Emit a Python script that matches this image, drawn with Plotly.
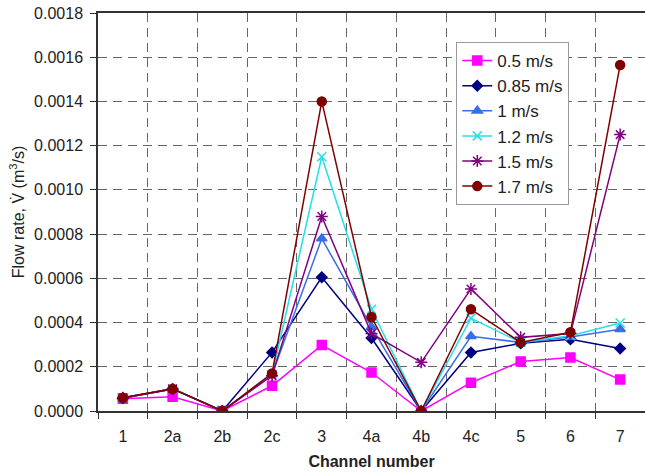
import plotly.graph_objects as go

cats = ["1", "2a", "2b", "2c", "3", "4a", "4b", "4c", "5", "6", "7"]
v05 = [0.000055, 0.000064, 0.0, 0.000114, 0.000298, 0.000174, 0.0, 0.000128, 0.000224, 0.000242, 0.000142]
v085 = [0.000058, 0.0001, 0.0, 0.000265, 0.000605, 0.00033, 0.0, 0.000265, 0.000306, 0.000324, 0.000283]
v1 = [0.00006, 0.0001, 0.0, 0.000165, 0.00078, 0.00038, 0.0, 0.000338, 0.00031, 0.000335, 0.00037]
v12 = [0.00006, 0.0001, 0.0, 0.000165, 0.00115, 0.00046, 0.0, 0.00042, 0.00031, 0.00034, 0.000398]
v15 = [0.00006, 0.0001, 0.0, 0.00016, 0.00088, 0.00035, 0.00022, 0.000552, 0.000333, 0.00035, 0.00125]
v17 = [0.00006, 0.0001, 0.0, 0.00017, 0.0014, 0.000425, 0.0, 0.00046, 0.00031, 0.000356, 0.001565]

series = [
    ("0.5 m/s", v05, "#FF00FF", "square", 9),
    ("0.85 m/s", v085, "#000080", "diamond", 8),
    ("1 m/s", v1, "#3A6EE8", "triangle-up", 9),
    ("1.2 m/s", v12, "#22E0E8", "x-thin-open", 9),
    ("1.5 m/s", v15, "#800080", "asterisk-open", 10),
    ("1.7 m/s", v17, "#800000", "circle", 9),
]

FONT = "Arial, Liberation Sans, Helvetica, sans-serif"

fig = go.Figure()
for i, (name, vals, color, sym, size) in enumerate(series):
    fig.add_trace(go.Scatter(
        x=cats, y=vals, name=name, mode="lines+markers",
        legendgroup=f"g{i}",
        line=dict(color=color, width=1.5),
        marker=dict(symbol=sym, size=size, color=color,
                    line=dict(color=color, width=1.5)),
    ))

fig.update_layout(
    width=645, height=472,
    margin=dict(l=98, r=0, t=13, b=61),
    plot_bgcolor="white", paper_bgcolor="white",
    font=dict(family=FONT, size=16, color="#222"),
    legend=dict(
        x=0.655, y=0.927, xanchor="left", yanchor="top",
        bgcolor="white", bordercolor="#999", borderwidth=1,
        font=dict(size=17, family=FONT, color="#222"),
        tracegroupgap=0, itemwidth=30,
    ),
    xaxis=dict(
        type="category", range=[-0.5, 10.5],
        tickson="boundaries", ticks="outside", ticklen=6, tickcolor="#333",
        showline=True, linecolor="#333", linewidth=1.5, mirror=True,
        showgrid=True, gridcolor="#666", gridwidth=1, griddash="9px,6px",
        tickfont=dict(size=16), ticklabelstandoff=10,
        title=dict(text="<b>Channel number</b>", font=dict(size=16), standoff=12),
    ),
    yaxis=dict(
        range=[0, 0.0018], dtick=0.0002, tickformat=".4f",
        ticks="outside", ticklen=6, tickcolor="#333",
        showline=True, linecolor="#333", linewidth=1.5,
        showgrid=True, gridcolor="#666", gridwidth=1, griddash="9px,6px",
        zeroline=False,
        tickfont=dict(size=16), ticklabelstandoff=4,
        title=dict(text="Flow rate, V\u0307 (m<sup>3</sup>/s)", font=dict(size=16), standoff=6),
    ),
)

fig.write_html("out.html")
